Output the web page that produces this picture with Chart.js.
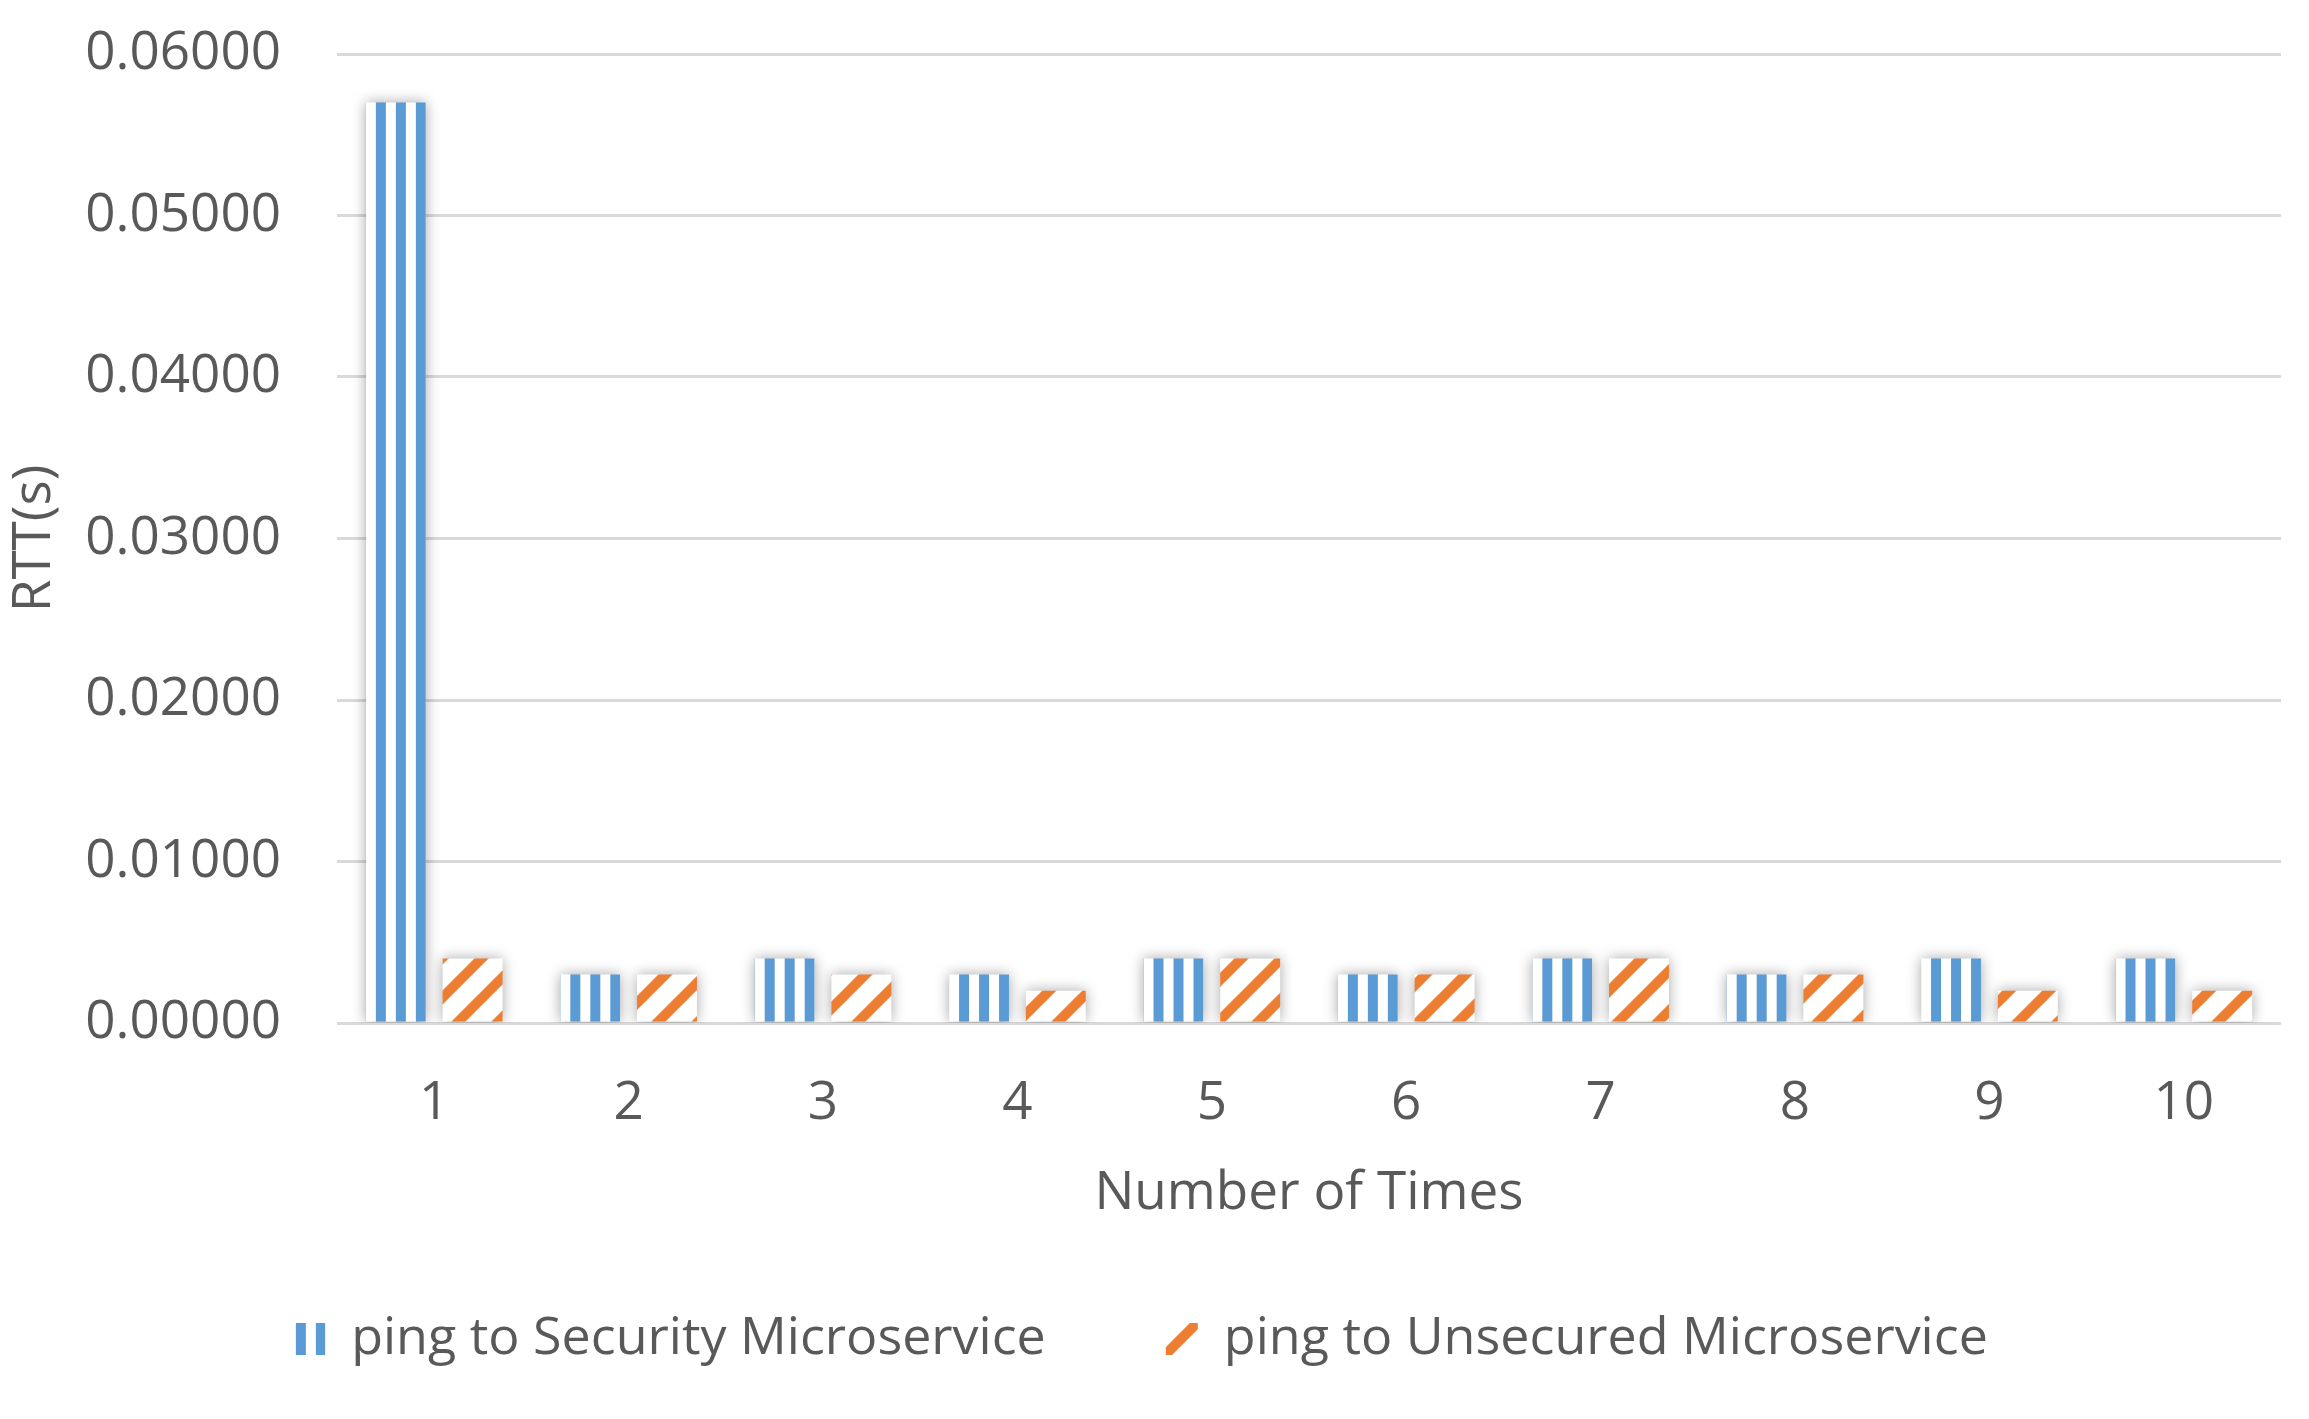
<!DOCTYPE html>
<html>
<head>
<meta charset="utf-8">
<script src="https://cdn.jsdelivr.net/npm/chart.js@4.4.1/dist/chart.umd.min.js"></script>
<style>
  html, body { margin: 0; padding: 0; background: #fff; }
  #wrap { width: 2309px; height: 1419px; }
</style>
</head>
<body>
<div id="wrap"><canvas id="chartRtt"></canvas></div>
<script>
// datos
const veces = ['1', '2', '3', '4', '5', '6', '7', '8', '9', '10'];
const rttSeguro = [0.0570, 0.0030, 0.0040, 0.0030, 0.0040, 0.0030, 0.0040, 0.0030, 0.0040, 0.0040];
const rttInseguro = [0.0040, 0.0030, 0.0030, 0.0020, 0.0040, 0.0030, 0.0040, 0.0030, 0.0020, 0.0020];
const ticksY = [0, 0.01, 0.02, 0.03, 0.04, 0.05, 0.06];

const AZUL = '#5b9bd5';
const NARANJA = '#ed7d31';
const GRIS_TEXTO = '#595959';
const FUENTE = "'Open Sans', 'Liberation Sans', sans-serif";
const TAM = 53;
const PCT_CAT = 0.79;
const PCT_BARRA = 0.78;

// rayas verticales (serie azul), alineadas al borde izquierdo de cada barra
function patronVertical(ctx, x0) {
    const c = document.createElement('canvas');
    c.width = 20; c.height = 20;
    const g = c.getContext('2d');
    g.fillStyle = '#ffffff';
    g.fillRect(0, 0, 20, 20);
    g.fillStyle = AZUL;
    g.fillRect(10, 0, 10, 20);
    const p = ctx.createPattern(c, 'repeat');
    p.setTransform(new DOMMatrix().translate(x0, 0));
    return p;
}

// rayas diagonales anchas (serie naranja)
function patronDiagonal(ctx, x0) {
    const s = 40;
    const c = document.createElement('canvas');
    c.width = s; c.height = s;
    const g = c.getContext('2d');
    g.fillStyle = '#ffffff';
    g.fillRect(0, 0, s, s);
    g.strokeStyle = NARANJA;
    g.lineWidth = 10;
    g.beginPath();
    g.moveTo(-s, s); g.lineTo(s, -s);
    g.moveTo(-s, 2 * s); g.lineTo(2 * s, -s);
    g.moveTo(0, 2 * s); g.lineTo(2 * s, 0);
    g.stroke();
    const p = ctx.createPattern(c, 'repeat');
    p.setTransform(new DOMMatrix().translate(x0, 0));
    return p;
}

// sombra suave alrededor de las barras, como en Excel
const sombraBarras = {
    id: 'sombraBarras',
    beforeDatasetsDraw(chart) {
        const ctx = chart.ctx;
        ctx.save();
        ctx.shadowColor = 'rgba(0, 0, 0, 0.35)';
        ctx.shadowBlur = 14;
        ctx.shadowOffsetX = 0;
        ctx.shadowOffsetY = 0;
    },
    afterDatasetsDraw(chart) {
        chart.ctx.restore();
    }
};

const ctx = document.getElementById('chartRtt').getContext('2d');
const rayasDiag = patronDiagonal(ctx, 0);

function fondoAzul(c) {
    if (c.dataIndex === undefined) return patronVertical(ctx, 278);   // muestra de la leyenda
    const eje = c.chart.scales.x;
    const anchoCat = eje.width / veces.length;
    const hueco = anchoCat * PCT_CAT / 2;
    const centro = eje.getPixelForValue(c.dataIndex) - hueco / 2;
    return patronVertical(ctx, centro - hueco * PCT_BARRA / 2);
}

function fondoNaranja(c) {
    if (c.dataIndex === undefined) return patronDiagonal(ctx, 7);   // muestra de la leyenda
    return rayasDiag;
}

new Chart(ctx, {
    type: 'bar',
    data: {
        labels: veces,
        datasets: [
            {
                label: 'ping to Security Microservice',
                data: rttSeguro,
                backgroundColor: fondoAzul,
                borderWidth: 0,
                categoryPercentage: PCT_CAT,
                barPercentage: PCT_BARRA
            },
            {
                label: 'ping to Unsecured Microservice',
                data: rttInseguro,
                backgroundColor: fondoNaranja,
                borderWidth: 0,
                categoryPercentage: PCT_CAT,
                barPercentage: PCT_BARRA
            }
        ]
    },
    options: {
        responsive: true,
        maintainAspectRatio: false,
        animation: false,
        devicePixelRatio: 1,
        layout: { padding: { top: 0, right: 28, left: 0, bottom: 44 } },
        scales: {
            x: {
                grid: { display: false },
                border: { display: false },
                ticks: {
                    color: GRIS_TEXTO,
                    font: { family: FUENTE, size: TAM, lineHeight: 1 },
                    padding: 46
                },
                title: {
                    display: true,
                    text: 'Number of Times',
                    color: GRIS_TEXTO,
                    font: { family: FUENTE, size: TAM, lineHeight: 1 },
                    padding: { top: -9, bottom: -27 }
                }
            },
            y: {
                min: 0,
                max: 0.06,
                afterBuildTicks: (eje) => { eje.ticks = ticksY.map(v => ({ value: v })); },
                afterFit: (eje) => {
                    eje.width = 337;
                    eje.paddingTop = 54;
                    eje.paddingBottom = 0;
                },
                grid: { color: '#d9d9d9', lineWidth: 3, drawTicks: false },
                border: { display: false },
                ticks: {
                    color: GRIS_TEXTO,
                    font: { family: FUENTE, size: TAM, lineHeight: 1 },
                    padding: 56,
                    callback: (v) => Number(v).toFixed(5)
                },
                title: {
                    display: true,
                    text: 'RTT(s)',
                    color: GRIS_TEXTO,
                    font: { family: FUENTE, size: TAM, lineHeight: 1 },
                    padding: { top: 8, bottom: 0 }
                }
            }
        },
        plugins: {
            legend: {
                position: 'bottom',
                labels: {
                    color: GRIS_TEXTO,
                    font: { family: FUENTE, size: 52 },
                    boxWidth: 32,
                    boxHeight: 32,
                    padding: 120
                }
            },
            tooltip: { enabled: false }
        }
    },
    plugins: [sombraBarras]
});
</script>
</body>
</html>
